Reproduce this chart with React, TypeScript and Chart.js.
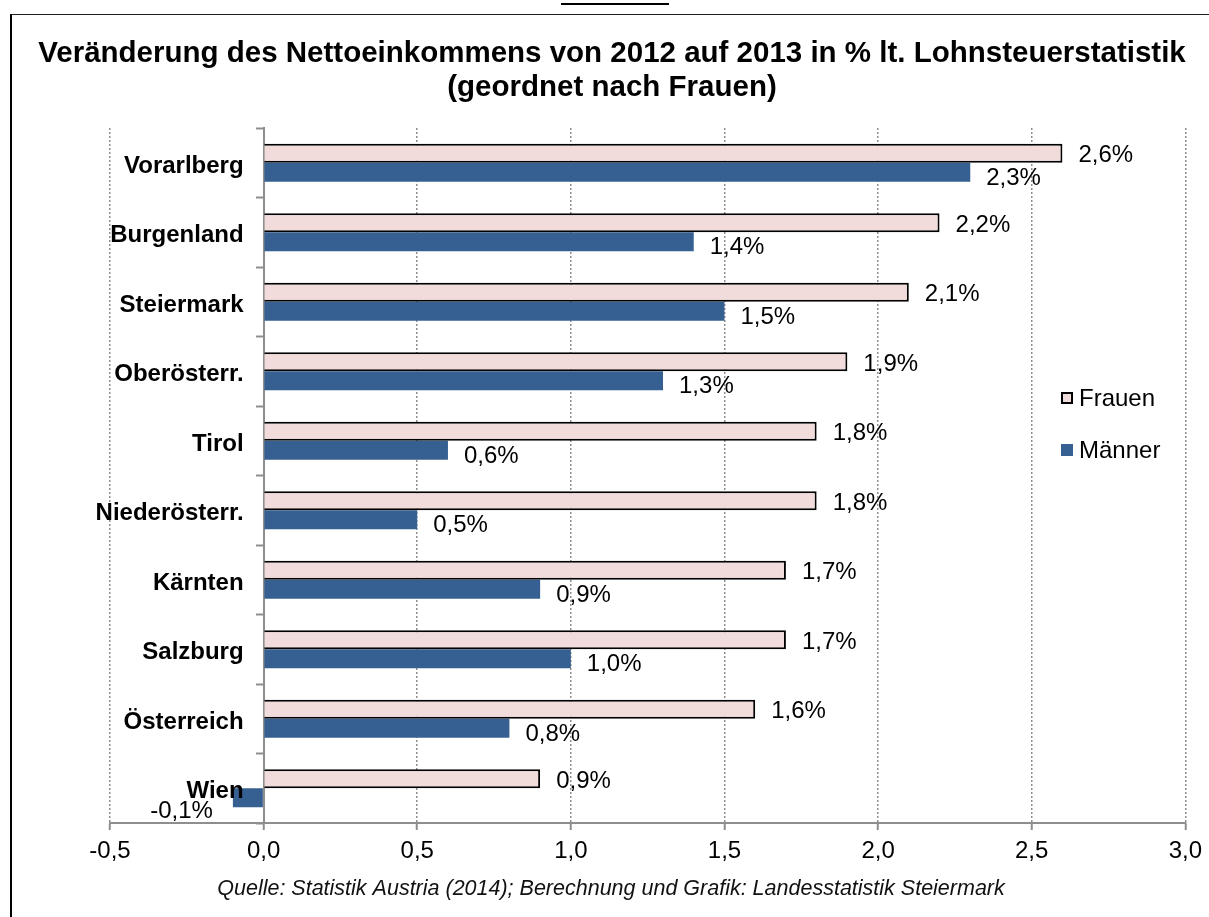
import React, { useEffect, useRef } from "react";
import { Chart, registerables } from "chart.js";
Chart.register(...registerables);

const categories = ["Vorarlberg", "Burgenland", "Steiermark", "Oberösterr.", "Tirol", "Niederösterr.", "Kärnten", "Salzburg", "Österreich", "Wien"];
const frauen = [2.6, 2.2, 2.1, 1.9, 1.8, 1.8, 1.7, 1.7, 1.6, 0.9];
const maenner = [2.3, 1.4, 1.5, 1.3, 0.6, 0.5, 0.9, 1.0, 0.8, -0.1];
const seriesNames = ["Frauen", "Männer"];
const xTickValues = [-0.5, 0, 0.5, 1, 1.5, 2, 2.5, 3];
const xTickLabels = ["-0,5", "0,0", "0,5", "1,0", "1,5", "2,0", "2,5", "3,0"];
const titleLines = ["Veränderung des Nettoeinkommens von 2012 auf 2013 in % lt. Lohnsteuerstatistik", "(geordnet nach Frauen)"];
const sourceText = "Quelle: Statistik Austria (2014); Berechnung und Grafik: Landesstatistik Steiermark";

const FONT = "'Liberation Sans', Arial, Helvetica, sans-serif";
const PINK = "#F2DCDB";
const BLUE = "#376092";
const GRID = "#8e8e8e";
const fmt = (v: number) => v.toFixed(1).replace(".", ",") + "%";

const overlayPlugin = {
  id: "overlay",
  afterDraw(chart: any) {
    const ctx = chart.ctx;
    const xs = chart.scales.x;
    const ys = chart.scales.y;
    ctx.save();
    // title
    ctx.fillStyle = "#000";
    ctx.textAlign = "center";
    ctx.textBaseline = "middle";
    ctx.font = `bold 29.5px ${FONT}`;
    ctx.fillText(titleLines[0], 612, 54);
    ctx.fillText(titleLines[1], 612, 88);
    // source
    ctx.font = `italic 21.5px ${FONT}`;
    ctx.fillStyle = "#111";
    ctx.fillText(sourceText, 611, 889);
    // category labels
    ctx.fillStyle = "#000";
    ctx.font = `bold 24px ${FONT}`;
    ctx.textAlign = "right";
    const x0 = xs.getPixelForValue(0);
    categories.forEach((c, i) => {
      ctx.fillText(c, x0 - 20, ys.getPixelForValue(i) + 3.5);
    });
    // value labels
    ctx.font = `24px ${FONT}`;
    chart.data.datasets.forEach((ds: any, di: number) => {
      const meta = chart.getDatasetMeta(di);
      meta.data.forEach((bar: any, i: number) => {
        const v = ds.data[i];
        if (v >= 0) {
          ctx.textAlign = "left";
          ctx.fillText(fmt(v), bar.x + 16, bar.y + (di === 0 ? 2.5 : 6));
        } else {
          ctx.textAlign = "right";
          ctx.fillText(fmt(v), bar.x - 20, bar.y + 14);
        }
      });
    });
    // legend
    const lx = 1061;
    const ly = [398, 450];
    chart.data.datasets.forEach((ds: any, di: number) => {
      ctx.fillStyle = ds.backgroundColor;
      ctx.fillRect(lx, ly[di] - 6, 12, 12);
      if (di === 0) {
        ctx.strokeStyle = "#000";
        ctx.lineWidth = 2;
        ctx.strokeRect(lx + 1, ly[di] - 5, 10, 10);
      }
      ctx.fillStyle = "#000";
      ctx.textAlign = "left";
      ctx.font = `24px ${FONT}`;
      ctx.fillText(ds.label, lx + 18, ly[di] + 1);
    });
    ctx.restore();
  },
};

export default function App() {
  const ref = useRef<HTMLCanvasElement | null>(null);
  useEffect(() => {
    if (!ref.current) return;
    const chart = new Chart(ref.current, {
      type: "bar",
      data: {
        labels: categories,
        datasets: [
          { label: seriesNames[0], data: frauen, backgroundColor: PINK, borderColor: "#000", borderWidth: 2 },
          { label: seriesNames[1], data: maenner, backgroundColor: BLUE, borderWidth: 0 },
        ],
      },
      options: {
        indexAxis: "y",
        responsive: false,
        animation: false,
        events: [],
        layout: { padding: { left: 110, right: 22, top: 128, bottom: 44 } },
        datasets: { bar: { categoryPercentage: 0.55, barPercentage: 1 } },
        plugins: { legend: { display: false }, title: { display: false }, tooltip: { enabled: false } },
        scales: {
          x: {
            type: "linear",
            position: "bottom",
            min: -0.5,
            max: 3,
            afterFit: (s: any) => { s.height = 50; },
            ticks: {
              stepSize: 0.5,
              color: "#000",
              padding: 7,
              font: { family: FONT, size: 24 },
              callback: (value: any) => {
                const i = xTickValues.findIndex((v) => Math.abs(v - Number(value)) < 1e-9);
                return i >= 0 ? xTickLabels[i] : "";
              },
            },
            grid: { color: GRID, lineWidth: 1.5, drawTicks: true, tickLength: 7, tickColor: GRID, tickWidth: 2, tickBorderDash: [] },
            border: { color: GRID, width: 2, dash: [2, 2] },
          },
          y: {
            type: "category",
            position: { x: 0 },
            offset: true,
            z: 1,
            ticks: { display: false },
            grid: { offset: true, drawOnChartArea: false, drawTicks: true, tickLength: 7, tickColor: GRID, tickWidth: 2 },
            border: { color: GRID, width: 2 },
          },
        },
      } as any,
      plugins: [overlayPlugin],
    });
    return () => chart.destroy();
  }, []);
  return (
    <div style={{ position: "fixed", left: 0, top: 0, width: 1209, height: 917, background: "#fff", overflow: "hidden" }}>
      <canvas ref={ref} width={1209} height={917} style={{ position: "absolute", left: 0, top: 0, width: 1209, height: 917 }} />
      <div style={{ position: "absolute", left: 10, top: 14, width: 1220, height: 940, borderLeft: "2px solid #000", borderTop: "1.5px solid #222", pointerEvents: "none" }} />
      <div style={{ position: "absolute", left: 561, top: 3, width: 108, height: 2, background: "#000" }} />
    </div>
  );
}
